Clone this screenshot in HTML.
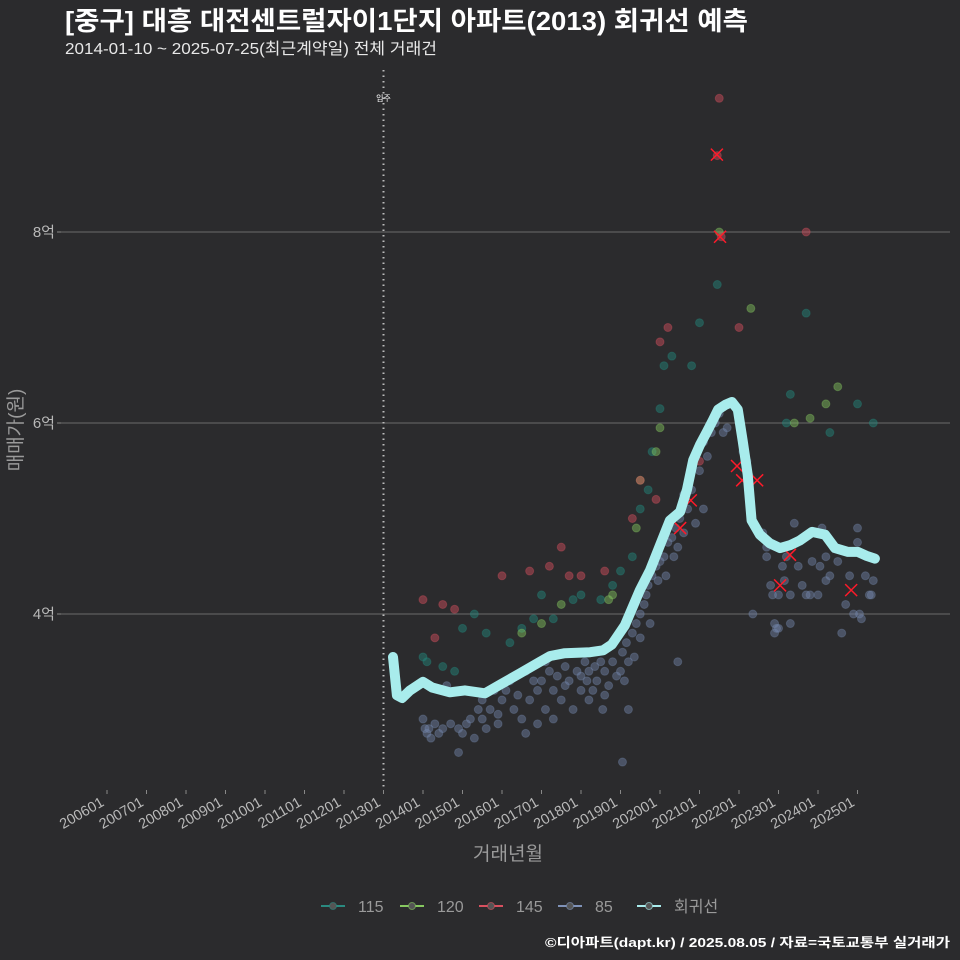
<!DOCTYPE html>
<html><head><meta charset="utf-8"><style>
html,body{margin:0;padding:0;background:#2b2b2d;}
svg{display:block;font-family:"Liberation Sans","Noto Sans CJK KR",sans-serif;}
</style></head><body>
<svg id="chart" width="960" height="960" viewBox="0 0 960 960" xmlns="http://www.w3.org/2000/svg">
<rect x="0" y="0" width="960" height="960" fill="#2b2b2d"/>
<text x="65" y="30" fill="#ffffff" font-size="26" font-weight="bold" textLength="683" lengthAdjust="spacingAndGlyphs">[중구] 대흥 대전센트럴자이1단지 아파트(2013) 회귀선 예측</text>
<text x="65" y="54" fill="#e8e8e8" font-size="16" textLength="372" lengthAdjust="spacingAndGlyphs">2014-01-10 ~ 2025-07-25(최근계약일) 전체 거래건</text>
<g id="grid"></g>
<g id="marks"></g>
<g id="axes"></g>
<text x="508" y="860" fill="#9a9a9a" font-size="19" text-anchor="middle">거래년월</text>
<text transform="translate(22,430) rotate(-90)" fill="#9a9a9a" font-size="19" text-anchor="middle">매매가(원)</text>
<g id="legend"></g>
<text x="950" y="947" fill="#ffffff" font-size="13" font-weight="bold" text-anchor="end" textLength="405" lengthAdjust="spacingAndGlyphs">©디아파트(dapt.kr) / 2025.08.05 / 자료=국토교통부 실거래가</text>
</svg>
<script>
const xTickYears=[2006,2007,2008,2009,2010,2011,2012,2013,2014,2015,2016,2017,2018,2019,2020,2021,2022,2023,2024,2025];
const xTickLabels=["200601","200701","200801","200901","201001","201101","201201","201301","201401","201501","201601","201701","201801","201901","202001","202101","202201","202301","202401","202501"];
const yTicks=[4,6,8];
const yTickLabels=["4억","6억","8억"];
const moveInYear=2013;
const series85=[[2014.0,2.9],[2014.05,2.8],[2014.1,2.75],[2014.15,2.8],[2014.2,2.7],[2014.3,2.85],[2014.4,2.75],[2014.5,2.8],[2014.6,3.25],[2014.7,2.85],[2014.9,2.8],[2015.0,2.75],[2014.9,2.55],
[2015.1,2.85],[2015.2,2.9],[2015.3,2.7],[2015.4,3.0],[2015.5,3.1],[2015.5,2.9],[2015.6,2.8],[2015.7,3.0],[2015.8,3.2],[2015.9,2.95],[2015.9,2.85],
[2016.0,3.1],[2016.1,3.2],[2016.2,3.3],[2016.3,3.0],[2016.4,3.15],[2016.5,2.9],[2016.6,3.4],[2016.7,3.1],[2016.8,3.3],[2016.9,2.85],[2016.6,2.75],[2016.9,3.2],
[2017.0,3.3],[2017.1,3.0],[2017.2,3.4],[2017.3,3.2],[2017.4,3.35],[2017.5,3.1],[2017.6,3.45],[2017.7,3.3],[2017.8,3.0],[2017.9,3.4],[2017.3,2.9],[2017.6,3.25],[2017.1,3.5],
[2018.0,3.35],[2018.1,3.5],[2018.15,3.3],[2018.2,3.4],[2018.3,3.2],[2018.35,3.45],[2018.4,3.3],[2018.5,3.5],[2018.55,3.0],[2018.6,3.4],[2018.7,3.25],[2018.8,3.5],[2018.9,3.35],[2018.2,3.1],[2018.6,3.15],[2018.0,3.2],
[2019.0,3.4],[2019.05,3.6],[2019.1,3.3],[2019.15,3.7],[2019.2,3.5],[2019.3,3.8],[2019.35,3.55],[2019.4,3.9],[2019.5,4.0],[2019.6,4.1],[2019.65,4.2],[2019.7,4.3],[2019.8,4.4],[2019.9,4.5],[2019.95,4.35],[2019.2,3.0],[2019.05,2.45],[2019.5,3.75],[2019.75,3.9],
[2020.0,4.55],[2020.1,4.6],[2020.15,4.4],[2020.2,4.75],[2020.3,4.8],[2020.35,4.6],[2020.4,4.9],[2020.45,4.7],[2020.5,5.0],[2020.6,4.85],[2020.7,5.1],[2020.8,5.3],[2020.9,4.95],[2020.45,3.5],[2020.6,5.25],
[2021.0,5.5],[2021.1,5.8],[2021.2,5.65],[2021.3,5.9],[2021.4,6.0],[2021.5,6.1],[2021.6,5.9],[2021.7,5.95],[2021.1,5.1],
[2022.1,5.7],[2022.2,5.6],[2022.25,5.45],[2022.35,4.0],[2022.6,4.85],[2022.7,4.6],[2022.8,4.3],[2022.85,4.2],[2022.9,3.9],[2022.95,3.85],[2022.9,3.8],[2022.7,4.7],
[2023.0,4.2],[2023.1,4.5],[2023.15,4.35],[2023.2,4.6],[2023.3,4.2],[2023.4,4.95],[2023.5,4.5],[2023.6,4.3],[2023.7,4.2],[2023.8,4.2],[2023.85,4.55],[2023.3,3.9],[2023.0,3.85],
[2024.0,4.2],[2024.05,4.5],[2024.1,4.9],[2024.2,4.6],[2024.3,4.4],[2024.4,4.7],[2024.5,4.55],[2024.6,3.8],[2024.7,4.1],[2024.8,4.4],[2024.9,4.0],[2024.2,4.35],
[2025.0,4.9],[2025.05,4.0],[2025.1,3.95],[2025.2,4.4],[2025.3,4.2],[2025.4,4.35],[2025.35,4.2],[2025.0,4.75]];
const series115=[[2014.0,3.55],[2014.1,3.5],[2014.5,3.45],[2014.8,3.4],[2015.0,3.85],[2015.3,4.0],[2015.6,3.8],[2016.2,3.7],[2016.5,3.85],[2016.8,3.95],[2017.0,4.2],[2017.3,3.95],[2017.8,4.15],[2018.0,4.2],[2018.5,4.15],[2018.8,4.3],[2019.0,4.45],[2019.3,4.6],[2019.5,5.1],[2019.7,5.3],[2019.8,5.7],[2020.0,6.15],[2020.1,6.6],[2020.3,6.7],[2020.8,6.6],[2021.0,7.05],[2021.45,7.45],[2023.2,6.0],[2023.3,6.3],[2023.7,7.15],[2024.3,5.9],[2025.0,6.2],[2025.4,6.0]];
const series120=[[2016.5,3.8],[2017.0,3.9],[2017.5,4.1],[2018.7,4.15],[2018.8,4.2],[2019.4,4.9],[2019.5,5.4],[2019.9,5.7],[2020.0,5.95],[2021.5,8.0],[2022.3,7.2],[2023.4,6.0],[2023.8,6.05],[2024.2,6.2],[2024.5,6.38]];
const series145=[[2014.0,4.15],[2014.3,3.75],[2014.5,4.1],[2014.8,4.05],[2016.0,4.4],[2016.7,4.45],[2017.2,4.5],[2017.5,4.7],[2017.7,4.4],[2018.0,4.4],[2018.6,4.45],[2019.3,5.0],[2019.5,5.4],[2019.9,5.2],[2020.0,6.85],[2020.2,7.0],[2021.5,9.4],[2021.45,8.8],[2021.55,7.95],[2022.0,7.0],[2023.7,8.0],[2021.0,5.6]];
const cancelled=[[2021.44,8.81],[2021.52,7.95],[2021.95,5.55],[2022.08,5.40],[2022.46,5.40],[2023.04,4.30],[2023.29,4.62],[2024.84,4.25],[2020.51,4.90],[2020.78,5.19]];
const regYears=[2013.24,2013.34,2013.47,2013.67,2014.0,2014.23,2014.68,2015.06,2015.57,2015.95,2016.46,2016.96,2017.22,2017.59,2018.23,2018.56,2018.78,2019.11,2019.49,2019.75,2020.0,2020.25,2020.51,2020.68,2020.84,2021.01,2021.19,2021.34,2021.47,2021.65,2021.82,2021.97,2022.09,2022.22,2022.32,2022.53,2022.78,2023.04,2023.29,2023.54,2023.85,2024.18,2024.43,2024.76,2025.01,2025.22,2025.44];
const regValues=[3.55,3.15,3.12,3.2,3.29,3.23,3.18,3.2,3.17,3.26,3.38,3.5,3.56,3.59,3.6,3.62,3.68,3.88,4.25,4.46,4.72,4.98,5.07,5.3,5.61,5.77,5.91,6.03,6.14,6.19,6.22,6.14,5.82,5.46,4.98,4.83,4.74,4.69,4.72,4.77,4.86,4.83,4.69,4.65,4.65,4.61,4.58];

const NS="http://www.w3.org/2000/svg";
const X=y=>383.5+(y-2013)*39.5;
const Y=v=>614-(v-4)*95.5;
function mk(tag,attrs,parent){const e=document.createElementNS(NS,tag);for(const k in attrs)e.setAttribute(k,attrs[k]);parent.appendChild(e);return e;}
const grid=document.getElementById('grid'),marks=document.getElementById('marks'),axes=document.getElementById('axes'),legend=document.getElementById('legend');
yTicks.forEach((v,i)=>{
  const l=mk('line',{x1:60,x2:950,y1:Y(v),y2:Y(v),stroke:'#6b6b6b','stroke-width':1},grid);
  
  
  const t=mk('text',{x:55,y:Y(v)+5,fill:'#b8b8b8','font-size':15,'text-anchor':'end'},axes);
  t.textContent=yTickLabels[i];
  
  
  const tk=mk('line',{x1:57,x2:61,y1:Y(v),y2:Y(v),stroke:'#888'},axes);
  
  
});
xTickYears.forEach((yr,i)=>{
  const tk=mk('line',{x1:X(yr),x2:X(yr),y1:790,y2:794,stroke:'#888'},axes);
  
  
  const t=mk('text',{transform:`translate(${X(yr)-2},${805}) rotate(-30)`,fill:'#b8b8b8','font-size':14.5,'text-anchor':'end'},axes);
  t.textContent=xTickLabels[i];
  
  
});
const mv=mk('line',{x1:X(moveInYear),x2:X(moveInYear),y1:70,y2:790,stroke:'#bbbbbb','stroke-width':2,'stroke-dasharray':'1.5,4'},grid);


const mvt=mk('text',{x:X(moveInYear),y:101,fill:'#ffffff','font-size':8,'text-anchor':'middle'},grid);
mvt.textContent='입주';


function pts(arr,color,name){
  arr.forEach(p=>{
    const c=mk('circle',{cx:X(p[0]),cy:Y(p[1]),r:4,fill:color,'fill-opacity':0.45,stroke:color,'stroke-opacity':0.35},marks);
    
    
  });
}
pts(series85,'#7486aa','point-85');
pts(series115,'#23897e','point-115');
pts(series120,'#86c860','point-120');
pts(series145,'#d8505f','point-145');
cancelled.forEach(p=>{
  const g=mk('path',{d:`M${X(p[0])-6},${Y(p[1])-6}L${X(p[0])+6},${Y(p[1])+6}M${X(p[0])-6},${Y(p[1])+6}L${X(p[0])+6},${Y(p[1])-6}`,stroke:'#ff1a2a','stroke-width':1.5},marks);
  
  
});
const d=regYears.map((y,i)=>(i?'L':'M')+X(y).toFixed(1)+','+Y(regValues[i]).toFixed(1)).join('');
const reg=mk('path',{d:d,fill:'none',stroke:'#a8ecec','stroke-width':10,'stroke-linejoin':'round','stroke-linecap':'round'},marks);


const legItems=[['115','#2a8a80'],['120','#86c860'],['145','#d8505f'],['85','#7f92b8'],['회귀선','#a8ecec']];
const legX=[333,412,491,570,649];
legItems.forEach((it,i)=>{
  const g=mk('g',{},legend);
  
  
  mk('line',{x1:legX[i]-12,x2:legX[i]+12,y1:906,y2:906,stroke:it[1],'stroke-width':2},g);
  mk('circle',{cx:legX[i],cy:906,r:3.5,fill:'#555',stroke:it[1],'stroke-opacity':0.6},g);
  const t=mk('text',{x:legX[i]+25,y:912,fill:'#9a9a9a','font-size':16},g);
  t.textContent=it[0];
});
</script>
</body></html>
